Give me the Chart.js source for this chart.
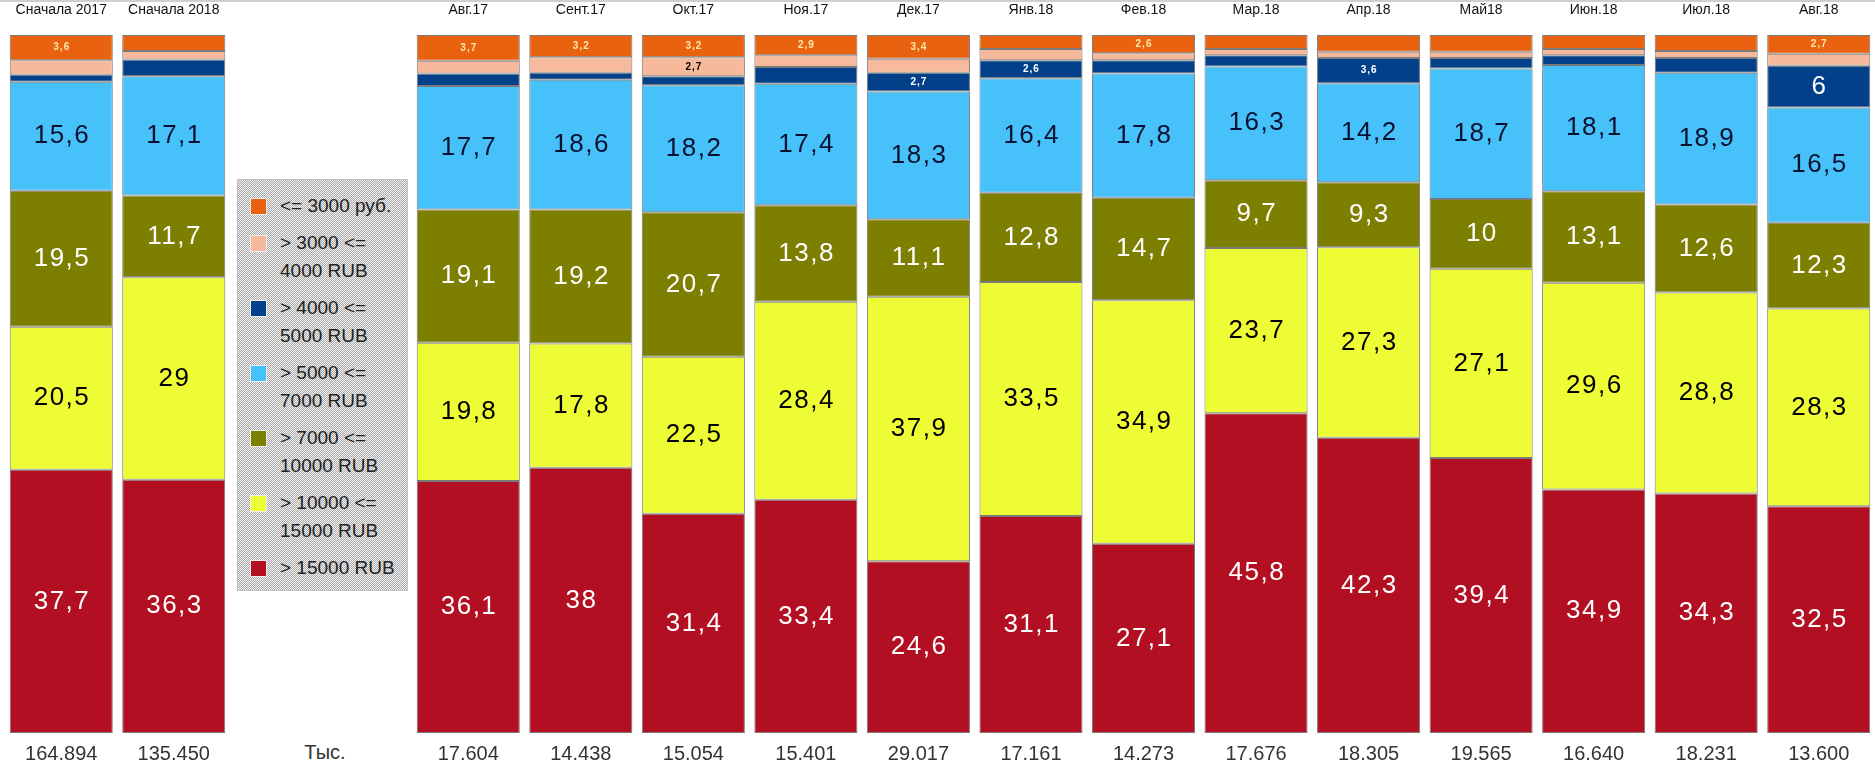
<!DOCTYPE html>
<html lang="ru">
<head>
<meta charset="utf-8">
<title>Структура по уровню зарплат</title>
<script src="https://cdn.jsdelivr.net/npm/chart.js@4.4.1/dist/chart.umd.min.js"></script>
<style>
  html, body { margin: 0; padding: 0; background: #fff; }
  body { width: 1875px; height: 766px; position: relative; overflow: hidden; font-family: "Liberation Sans", Arial, sans-serif; }
  #topLine { position: absolute; left: 0; top: 0; width: 1875px; height: 2px; background: #cfcfcf; }
  #leftBox { position: absolute; left: 5px; top: 0; width: 225px; height: 766px; }
  #rightBox { position: absolute; left: 412px; top: 0; width: 1463px; height: 766px; }
  #legend {
    position: absolute; left: 237px; top: 179px; width: 171px; height: 412px;
    box-sizing: border-box; border: 1px solid #c4c4c4;
    background: repeating-conic-gradient(#a8a8a8 0 25%, #f4f4f4 0 50%) 0 0 / 2px 2px;
    padding: 12px 0 0 12px;
  }
  .item { display: flex; align-items: flex-start; margin-bottom: 9px; }
  .swatch { width: 17px; height: 17px; box-sizing: border-box; border: 1px solid #eee; margin-top: 6px; margin-right: 13px; flex: none; }
  .text { width: 120px; font-size: 19px; line-height: 28px; color: #222; }
  #unit { position: absolute; left: 300px; top: 740px; width: 50px; text-align: center; font-family: "Liberation Sans Narrow", "Liberation Sans", Arial; font-size: 20px; line-height: 24px; color: #333; }
</style>
</head>
<body>
<div id="topLine"></div>
<div id="leftBox"><canvas id="leftChart"></canvas></div>
<div id="legend"></div>
<div id="unit">Тыс.</div>
<div id="rightBox"><canvas id="rightChart"></canvas></div>
<script>
// Периоды: 2 итоговых столбца + 13 месяцев
const periodLabels = ["Сначала 2017", "Сначала 2018"];
const periodTotals = ["164.894", "135.450"];
const monthLabels = ["Авг.17", "Сент.17", "Окт.17", "Ноя.17", "Дек.17", "Янв.18", "Фев.18", "Мар.18", "Апр.18", "Май18", "Июн.18", "Июл.18", "Авг.18"];
const monthTotals = ["17.604", "14.438", "15.054", "15.401", "29.017", "17.161", "14.273", "17.676", "18.305", "19.565", "16.640", "18.231", "13.600"];

// Доли, % (первые 2 значения — периоды, далее месяцы)
const over15000 = [37.7, 36.3, 36.1, 38, 31.4, 33.4, 24.6, 31.1, 27.1, 45.8, 42.3, 39.4, 34.9, 34.3, 32.5];
const upTo15000 = [20.5, 29, 19.8, 17.8, 22.5, 28.4, 37.9, 33.5, 34.9, 23.7, 27.3, 27.1, 29.6, 28.8, 28.3];
const upTo10000 = [19.5, 11.7, 19.1, 19.2, 20.7, 13.8, 11.1, 12.8, 14.7, 9.7, 9.3, 10, 13.1, 12.6, 12.3];
const upTo7000 = [15.6, 17.1, 17.7, 18.6, 18.2, 17.4, 18.3, 16.4, 17.8, 16.3, 14.2, 18.7, 18.1, 18.9, 16.5];
const upTo5000 = [1.0, 2.4, 1.8, 1.0, 1.3, 2.4, 2.7, 2.6, 1.9, 1.6, 3.6, 1.5, 1.4, 2.1, 6];
const upTo4000 = [2.1, 1.2, 1.8, 2.2, 2.7, 1.7, 2.0, 1.6, 1.0, 0.9, 0.9, 0.9, 0.9, 1.0, 1.7];
const upTo3000 = [3.6, 2.3, 3.7, 3.2, 3.2, 2.9, 3.4, 2.0, 2.6, 2.0, 2.4, 2.4, 2.0, 2.3, 2.7];

// Серии снизу вверх
const seriesNames = ["> 15000 RUB", "> 10000 <= 15000 RUB", "> 7000 <= 10000 RUB", "> 5000 <= 7000 RUB", "> 4000 <= 5000 RUB", "> 3000 <= 4000 RUB", "<= 3000 руб."];
const seriesValues = [over15000, upTo15000, upTo10000, upTo7000, upTo5000, upTo4000, upTo3000];
const seriesColors = ["#b21022", "#eefc36", "#7d7f00", "#46c1fa", "#02408a", "#f7b99b", "#e9620f"];
const labelColors = ["#ffffff", "#000000", "#ffffff", "#0a1030", "#ffffff", "#000000", "#ffe9a8"];

const minLabelValue = 2.5;
const bigLabelValue = 5;

Chart.defaults.font.family = '"Liberation Sans", Arial, sans-serif';

// Подписи значений внутри сегментов
const valueLabels = {
  id: "valueLabels",
  afterDatasetsDraw(chart) {
    const ctx = chart.ctx;
    chart.data.datasets.forEach((ds, i) => {
      const meta = chart.getDatasetMeta(i);
      meta.data.forEach((bar, j) => {
        const v = ds.data[j];
        if (v < minLabelValue) return;
        const big = v >= bigLabelValue;
        const spacing = big ? 1.5 : 1;
        ctx.save();
        ctx.font = big ? '26px "Liberation Sans", Arial' : 'bold 10px "Liberation Sans", Arial';
        ctx.letterSpacing = spacing + "px";
        ctx.fillStyle = ds.labelColor;
        ctx.textAlign = "center";
        ctx.textBaseline = "middle";
        ctx.fillText(String(v).replace(".", ","), bar.x + spacing / 2, (bar.y + bar.base) / 2);
        ctx.restore();
      });
    });
  }
};

function makeChart(canvasId, labels, totals, from, to) {
  const datasets = seriesNames.map((name, i) => ({
    label: name,
    data: seriesValues[i].slice(from, to),
    backgroundColor: seriesColors[i],
    borderColor: "#7a7a7a",
    borderWidth: 1,
    borderSkipped: false,
    categoryPercentage: 1,
    barPercentage: 0.916,
    labelColor: labelColors[i]
  }));

  return new Chart(document.getElementById(canvasId), {
    type: "bar",
    data: { labels: labels, datasets: datasets },
    options: {
      responsive: true,
      maintainAspectRatio: false,
      animation: false,
      layout: { padding: 0 },
      plugins: { legend: { display: false }, tooltip: { enabled: false } },
      scales: {
        x: {
          stacked: true,
          position: "top",
          grid: { display: false },
          border: { display: false },
          ticks: { color: "#111", font: { size: 14 }, padding: 8, maxRotation: 0, autoSkip: false },
          afterFit(scale) { scale.height = 35; }
        },
        totals: {
          type: "category",
          labels: totals,
          position: "bottom",
          offset: true,
          grid: { display: false },
          border: { display: false },
          ticks: { color: "#333", font: { family: '"Liberation Sans Narrow", "Liberation Sans", Arial', size: 20 }, padding: 1, maxRotation: 0, autoSkip: false },
          afterFit(scale) { scale.height = 33; }
        },
        y: { stacked: true, display: false, min: 0, max: 100 }
      }
    },
    plugins: [valueLabels]
  });
}

makeChart("leftChart", periodLabels, periodTotals, 0, 2);
makeChart("rightChart", monthLabels, monthTotals, 2, 15);

// Легенда: сверху вниз, как сегменты в столбце
const legend = document.getElementById("legend");
for (let i = seriesNames.length - 1; i >= 0; i--) {
  const item = document.createElement("div");
  item.className = "item";
  item.innerHTML = `<div class="swatch" style="background:${seriesColors[i]}"></div><div class="text">${seriesNames[i].replace(/</g, "&lt;").replace(/>/g, "&gt;")}</div>`;
  legend.appendChild(item);
}
</script>
</body>
</html>
